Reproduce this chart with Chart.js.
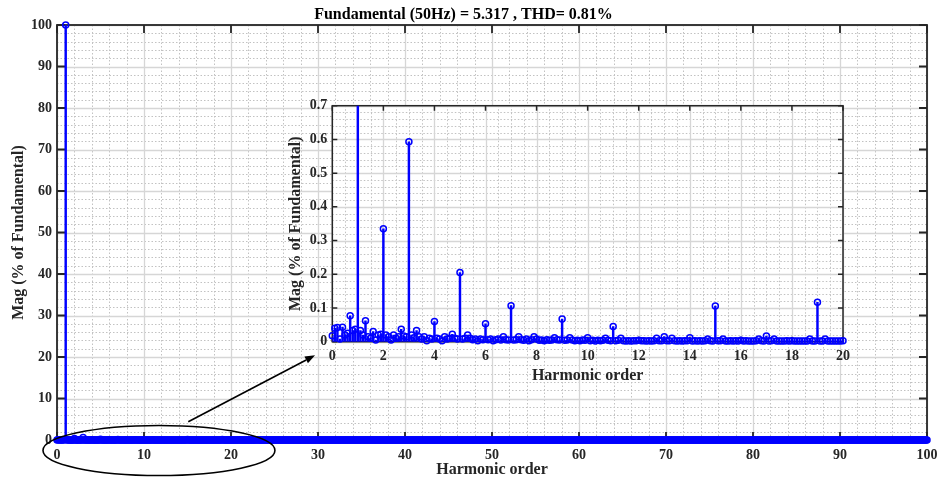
<!DOCTYPE html>
<html><head><meta charset="utf-8">
<script src="https://cdn.jsdelivr.net/npm/chart.js@4.4.0/dist/chart.umd.min.js"></script>
<style>
html,body{margin:0;padding:0;background:#fff;}
#wrap{position:relative;width:937px;height:482px;overflow:hidden;}
#main{position:absolute;left:0;top:0;}
#inset{position:absolute;left:280px;top:95px;}
</style></head><body>
<div id="wrap"><canvas id="main" width="937" height="482"></canvas><canvas id="inset" width="580" height="300"></canvas></div>
<script>
// ---------------- DATA ----------------
const harmonicStep = 0.1; // harmonic order resolution
// magnitude (% of fundamental), harmonic order 0.0 .. 19.9
const magLow = [
0.018,0.040,0.042,0.008,0.043,0.020,0.025,0.077,0.033,0.037,
100,0.033,0.020,0.062,0.015,0.010,0.030,0.005,0.020,0.022,
0.335,0.020,0.015,0.005,0.020,0.010,0.015,0.037,0.017,0.015,
0.593,0.020,0.012,0.033,0.015,0.008,0.015,0.003,0.010,0.008,
0.060,0.010,0.008,0.003,0.015,0.008,0.010,0.022,0.010,0.008,
0.205,0.008,0.010,0.020,0.010,0.006,0.008,0.003,0.008,0.006,
0.053,0.006,0.008,0.003,0.006,0.008,0.005,0.015,0.006,0.005,
0.107,0.005,0.006,0.015,0.006,0.004,0.008,0.003,0.006,0.015,
0.008,0.004,0.005,0.003,0.006,0.004,0.005,0.012,0.006,0.005,
0.067,0.004,0.005,0.012,0.005,0.003,0.004,0.003,0.005,0.004,
0.012,0.003,0.004,0.002,0.004,0.003,0.004,0.010,0.004,0.003,
0.045,0.003,0.004,0.010,0.003,0.002,0.003,0.002,0.003,0.003,
0.004,0.003,0.003,0.002,0.003,0.002,0.003,0.010,0.003,0.003,
0.015,0.003,0.003,0.010,0.003,0.002,0.003,0.002,0.003,0.003,
0.012,0.002,0.003,0.002,0.003,0.002,0.003,0.008,0.003,0.002,
0.106,0.003,0.003,0.008,0.002,0.002,0.003,0.002,0.003,0.002,
0.004,0.002,0.003,0.002,0.002,0.002,0.003,0.008,0.003,0.002,
0.017,0.002,0.003,0.008,0.002,0.002,0.002,0.002,0.003,0.002,
0.003,0.002,0.002,0.002,0.002,0.002,0.002,0.008,0.002,0.002,
0.117,0.002,0.002,0.008,0.002,0.002,0.002,0.002,0.002,0.002
];
// magnitude (% of fundamental), harmonic order 20.0 .. 100.0
const magHigh = [
0.003,0.002,0.002,0.002,0.002,0.002,0.002,0.004,0.002,0.002,
0.050,0.002,0.002,0.004,0.002,0.002,0.002,0.002,0.002,0.002,
0.003,0.002,0.002,0.002,0.002,0.002,0.002,0.004,0.002,0.002,
0.040,0.002,0.002,0.004,0.002,0.002,0.002,0.002,0.002,0.002,
0.003,0.002,0.002,0.002,0.002,0.002,0.002,0.004,0.002,0.002,
0.030,0.002,0.002,0.004,0.002,0.002,0.002,0.002,0.002,0.002,
0.003,0.002,0.002,0.002,0.002,0.002,0.002,0.004,0.002,0.002,
0.025,0.002,0.002,0.004,0.002,0.002,0.002,0.002,0.002,0.002,
0.003,0.002,0.002,0.002,0.002,0.002,0.002,0.004,0.002,0.002,
0.020,0.002,0.002,0.004,0.002,0.002,0.002,0.002,0.002,0.002,
0.003,0.002,0.002,0.002,0.002,0.002,0.002,0.003,0.002,0.002,
0.018,0.002,0.002,0.003,0.002,0.002,0.002,0.002,0.002,0.002,
0.003,0.002,0.002,0.002,0.002,0.002,0.002,0.003,0.002,0.002,
0.015,0.002,0.002,0.003,0.002,0.002,0.002,0.002,0.002,0.002,
0.003,0.002,0.002,0.002,0.002,0.002,0.002,0.003,0.002,0.002,
0.013,0.002,0.002,0.003,0.002,0.002,0.002,0.002,0.002,0.002,
0.003,0.002,0.002,0.002,0.002,0.002,0.002,0.003,0.002,0.002,
0.012,0.002,0.002,0.003,0.002,0.002,0.002,0.002,0.002,0.002,
0.003,0.002,0.002,0.002,0.002,0.002,0.002,0.003,0.002,0.002,
0.011,0.002,0.002,0.003,0.002,0.002,0.002,0.002,0.002,0.002,
0.002,0.002,0.002,0.002,0.002,0.002,0.002,0.003,0.002,0.002,
0.010,0.002,0.002,0.003,0.002,0.002,0.002,0.002,0.002,0.002,
0.002,0.002,0.002,0.002,0.002,0.002,0.002,0.003,0.002,0.002,
0.010,0.002,0.002,0.003,0.002,0.002,0.002,0.002,0.002,0.002,
0.002,0.002,0.002,0.002,0.002,0.002,0.002,0.003,0.002,0.002,
0.010,0.002,0.002,0.003,0.002,0.002,0.002,0.002,0.002,0.002,
0.002,0.002,0.002,0.002,0.002,0.002,0.002,0.003,0.002,0.002,
0.009,0.002,0.002,0.003,0.002,0.002,0.002,0.002,0.002,0.002,
0.002,0.002,0.002,0.002,0.002,0.002,0.002,0.003,0.002,0.002,
0.009,0.002,0.002,0.003,0.002,0.002,0.002,0.002,0.002,0.002,
0.002,0.002,0.002,0.002,0.002,0.002,0.002,0.002,0.002,0.002,
0.008,0.002,0.002,0.002,0.002,0.002,0.002,0.002,0.002,0.002,
0.002,0.002,0.002,0.002,0.002,0.002,0.002,0.002,0.002,0.002,
0.008,0.002,0.002,0.002,0.002,0.002,0.002,0.002,0.002,0.002,
0.002,0.002,0.002,0.002,0.002,0.002,0.002,0.002,0.002,0.002,
0.007,0.002,0.002,0.002,0.002,0.002,0.002,0.002,0.002,0.002,
0.002,0.002,0.002,0.002,0.002,0.002,0.002,0.002,0.002,0.002,
0.007,0.002,0.002,0.002,0.002,0.002,0.002,0.002,0.002,0.002,
0.002,0.002,0.002,0.002,0.002,0.002,0.002,0.002,0.002,0.002,
0.006,0.002,0.002,0.002,0.002,0.002,0.002,0.002,0.002,0.002,
0.002,0.002,0.002,0.002,0.002,0.002,0.002,0.002,0.002,0.002,
0.006,0.002,0.002,0.002,0.002,0.002,0.002,0.002,0.002,0.002,
0.002,0.002,0.002,0.002,0.002,0.002,0.002,0.002,0.002,0.002,
0.006,0.002,0.002,0.002,0.002,0.002,0.002,0.002,0.002,0.002,
0.002,0.002,0.002,0.002,0.002,0.002,0.002,0.002,0.002,0.002,
0.005,0.002,0.002,0.002,0.002,0.002,0.002,0.002,0.002,0.002,
0.002,0.002,0.002,0.002,0.002,0.002,0.002,0.002,0.002,0.002,
0.005,0.002,0.002,0.002,0.002,0.002,0.002,0.002,0.002,0.002,
0.002,0.002,0.002,0.002,0.002,0.002,0.002,0.002,0.002,0.002,
0.005,0.002,0.002,0.002,0.002,0.002,0.002,0.002,0.002,0.002,
0.002,0.002,0.002,0.002,0.002,0.002,0.002,0.002,0.002,0.002,
0.004,0.002,0.002,0.002,0.002,0.002,0.002,0.002,0.002,0.002,
0.002,0.002,0.002,0.002,0.002,0.002,0.002,0.002,0.002,0.002,
0.004,0.002,0.002,0.002,0.002,0.002,0.002,0.002,0.002,0.002,
0.002,0.002,0.002,0.002,0.002,0.002,0.002,0.002,0.002,0.002,
0.004,0.002,0.002,0.002,0.002,0.002,0.002,0.002,0.002,0.002,
0.002,0.002,0.002,0.002,0.002,0.002,0.002,0.002,0.002,0.002,
0.004,0.002,0.002,0.002,0.002,0.002,0.002,0.002,0.002,0.002,
0.002,0.002,0.002,0.002,0.002,0.002,0.002,0.002,0.002,0.002,
0.003,0.002,0.002,0.002,0.002,0.002,0.002,0.002,0.002,0.002,
0.002,0.002,0.002,0.002,0.002,0.002,0.002,0.002,0.002,0.002,
0.003,0.002,0.002,0.002,0.002,0.002,0.002,0.002,0.002,0.002,
0.002,0.002,0.002,0.002,0.002,0.002,0.002,0.002,0.002,0.002,
0.003,0.002,0.002,0.002,0.002,0.002,0.002,0.002,0.002,0.002,
0.002,0.002,0.002,0.002,0.002,0.002,0.002,0.002,0.002,0.002,
0.003,0.002,0.002,0.002,0.002,0.002,0.002,0.002,0.002,0.002,
0.002,0.002,0.002,0.002,0.002,0.002,0.002,0.002,0.002,0.002,
0.003,0.002,0.002,0.002,0.002,0.002,0.002,0.002,0.002,0.002,
0.002,0.002,0.002,0.002,0.002,0.002,0.002,0.002,0.002,0.002,
0.003,0.002,0.002,0.002,0.002,0.002,0.002,0.002,0.002,0.002,
0.002,0.002,0.002,0.002,0.002,0.002,0.002,0.002,0.002,0.002,
0.003,0.002,0.002,0.002,0.002,0.002,0.002,0.002,0.002,0.002,
0.002,0.002,0.002,0.002,0.002,0.002,0.002,0.002,0.002,0.002,
0.003,0.002,0.002,0.002,0.002,0.002,0.002,0.002,0.002,0.002,
0.002,0.002,0.002,0.002,0.002,0.002,0.002,0.002,0.002,0.002,
0.003,0.002,0.002,0.002,0.002,0.002,0.002,0.002,0.002,0.002,
0.002,0.002,0.002,0.002,0.002,0.002,0.002,0.002,0.002,0.002,
0.003,0.002,0.002,0.002,0.002,0.002,0.002,0.002,0.002,0.002,
0.002,0.002,0.002,0.002,0.002,0.002,0.002,0.002,0.002,0.002,
0.003,0.002,0.002,0.002,0.002,0.002,0.002,0.002,0.002,0.002,
0.002
];
const mainXTicks = [0,10,20,30,40,50,60,70,80,90,100];
const mainYTicks = [0,10,20,30,40,50,60,70,80,90,100];
const insetXTicks = [0,2,4,6,8,10,12,14,16,18,20];
const insetYTicks = [0,0.1,0.2,0.3,0.4,0.5,0.6,0.7];
const titleText = 'Fundamental (50Hz) = 5.317 , THD= 0.81%';
const yTitleText = 'Mag (% of Fundamental)';
const xTitleText = 'Harmonic order';

// ---------------- STYLE ----------------
const BLUE = '#0000FF';
const SERIF = "'Liberation Serif', 'Times New Roman', serif";
const AXIS = '#262626';

const mag = magLow.concat(magHigh);
const points = mag.map((v, i) => ({x: +(i * harmonicStep).toFixed(1), y: v}));
const insetPoints = points.filter(p => p.x <= 20);

function gridValues(min, max, step) {
  const n = Math.round((max - min) / step), out = [];
  for (let i = 0; i <= n; i++) out.push(min + i * step);
  return out;
}
function isMult(v, step) { const r = v / step; return Math.abs(r - Math.round(r)) < 1e-6; }

const frame = {
  id: 'frame',
  beforeDatasetsDraw(chart, args, o) {
    const {ctx, chartArea: a, scales: {x, y}} = chart;
    ctx.save();
    if (o.fill) { ctx.fillStyle = '#fff'; ctx.fillRect(a.left, a.top, a.right - a.left, a.bottom - a.top); }
    const vline = v => { const p = Math.round(x.getPixelForValue(v)) + 0.5; ctx.moveTo(p, a.top); ctx.lineTo(p, a.bottom); };
    const hline = v => { const p = Math.round(y.getPixelForValue(v)) + 0.5; ctx.moveTo(a.left, p); ctx.lineTo(a.right, p); };
    // minor
    ctx.beginPath();
    ctx.strokeStyle = '#c2c2c2'; ctx.lineWidth = 1; ctx.setLineDash([1.5, 2]);
    gridValues(x.min, x.max, o.xMinor).forEach(v => { if (!isMult(v, o.xMajor)) vline(v); });
    gridValues(y.min, y.max, o.yMinor).forEach(v => { if (!isMult(v, o.yMajor)) hline(v); });
    ctx.stroke();
    // major
    ctx.beginPath();
    ctx.setLineDash([]); ctx.strokeStyle = '#d6d6d6'; ctx.lineWidth = 1.3;
    gridValues(x.min, x.max, o.xMajor).forEach(vline);
    gridValues(y.min, y.max, o.yMajor).forEach(hline);
    ctx.stroke();
    // box
    ctx.strokeStyle = AXIS; ctx.lineWidth = o.boxWidth;
    ctx.strokeRect(a.left, a.top, a.right - a.left, a.bottom - a.top);
    // inward ticks
    ctx.beginPath();
    const L = o.tickLen;
    gridValues(x.min, x.max, o.xMajor).forEach(v => {
      const p = x.getPixelForValue(v);
      ctx.moveTo(p, a.bottom); ctx.lineTo(p, a.bottom - L);
      ctx.moveTo(p, a.top); ctx.lineTo(p, a.top + L);
    });
    gridValues(y.min, y.max, o.yMajor).forEach(v => {
      const p = y.getPixelForValue(v);
      ctx.moveTo(a.left, p); ctx.lineTo(a.left + L, p);
      ctx.moveTo(a.right, p); ctx.lineTo(a.right - L, p);
    });
    ctx.stroke();
    ctx.restore();
  }
};

// annotation in main-axis data units
const zoomEllipse = {cx: 11.72, cy: -2.53, rx: 13.33, ry: 6.02};
const zoomArrow = {x1: 15.09, y1: 4.41, x2: 29.66, y2: 20.4};
const annot = {
  id: 'annot',
  afterDatasetsDraw(chart) {
    const {ctx, scales: {x, y}} = chart;
    ctx.save();
    ctx.strokeStyle = '#000'; ctx.fillStyle = '#000'; ctx.lineWidth = 1.6;
    const cx = x.getPixelForValue(zoomEllipse.cx), cy = y.getPixelForValue(zoomEllipse.cy);
    const rx = Math.abs(x.getPixelForValue(zoomEllipse.cx + zoomEllipse.rx) - cx);
    const ry = Math.abs(y.getPixelForValue(zoomEllipse.cy + zoomEllipse.ry) - cy);
    ctx.beginPath(); ctx.ellipse(cx, cy, rx, ry, 0, 0, 2 * Math.PI); ctx.stroke();
    const x1 = x.getPixelForValue(zoomArrow.x1), y1 = y.getPixelForValue(zoomArrow.y1);
    const x2 = x.getPixelForValue(zoomArrow.x2), y2 = y.getPixelForValue(zoomArrow.y2);
    const ang = Math.atan2(y2 - y1, x2 - x1), hl = 10, hw = 3.8;
    const bx = x2 - hl * Math.cos(ang), by = y2 - hl * Math.sin(ang);
    ctx.beginPath(); ctx.moveTo(x1, y1); ctx.lineTo(bx, by); ctx.stroke();
    ctx.beginPath();
    ctx.moveTo(x2, y2);
    ctx.lineTo(bx + hw * Math.sin(ang), by - hw * Math.cos(ang));
    ctx.lineTo(bx - hw * Math.sin(ang), by + hw * Math.cos(ang));
    ctx.closePath(); ctx.fill();
    ctx.restore();
  }
};

const tickFont = {family: SERIF, size: 14, weight: 'bold'};
const titleFont = {family: SERIF, size: 16, weight: 'bold'};

function stemDatasets(data) {
  return [
    {type: 'line', data: data, showLine: false, pointRadius: 3, pointBorderWidth: 1.5,
     pointBackgroundColor: 'rgba(0,0,0,0)', pointBorderColor: BLUE, borderColor: BLUE, clip: false, order: 0},
    {type: 'bar', data: data, backgroundColor: BLUE, borderWidth: 0, barThickness: 1.8, clip: 0, order: 1}
  ];
}

function axis(opts) {
  return {
    type: 'linear', min: opts.min, max: opts.max, offset: false,
    grid: {display: false, drawTicks: false}, border: {display: false},
    afterBuildTicks: s => { s.ticks = opts.ticks.map(v => ({value: v})); },
    afterFit: s => {
      if (opts.width !== undefined) s.width = opts.width;
      if (opts.height !== undefined) s.height = opts.height;
      s.paddingLeft = 0; s.paddingRight = 0; s.paddingTop = 0; s.paddingBottom = 0;
    },
    ticks: {padding: opts.pad, color: AXIS, font: tickFont, maxRotation: 0, autoSkip: false},
    title: {display: true, text: opts.title, color: AXIS, font: titleFont, padding: opts.titlePad}
  };
}

new Chart(document.getElementById('main'), {
  type: 'scatter',
  data: {datasets: stemDatasets(points)},
  options: {
    responsive: false, animation: false, events: [],
    layout: {padding: {left: 0, right: 10, top: 0, bottom: 0}},
    plugins: {
      legend: {display: false}, tooltip: {enabled: false},
      title: {display: true, text: titleText, color: '#000', font: titleFont, padding: {top: 5.4, bottom: 0.4}},
      frame: {fill: false, xMinor: 2, yMinor: 2, xMajor: 10, yMajor: 10, tickLen: 8, boxWidth: 1.8}
    },
    scales: {
      x: axis({min: 0, max: 100, ticks: mainXTicks, height: 42, pad: 6.6, title: xTitleText, titlePad: {top: 0, bottom: 2.4}}),
      y: axis({min: 0, max: 100, ticks: mainYTicks, width: 57, pad: 5, title: yTitleText, titlePad: {top: 9.4, bottom: 0}})
    }
  },
  plugins: [frame, annot]
});

new Chart(document.getElementById('inset'), {
  type: 'scatter',
  data: {datasets: stemDatasets(insetPoints)},
  options: {
    responsive: false, animation: false, events: [],
    layout: {padding: {left: 0, right: 17, top: 10.7, bottom: 0}},
    plugins: {
      legend: {display: false}, tooltip: {enabled: false},
      frame: {fill: true, xMinor: 0.5, yMinor: 0.02, xMajor: 2, yMajor: 0.1, tickLen: 5, boxWidth: 1.5}
    },
    scales: {
      x: axis({min: 0, max: 20, ticks: insetXTicks, height: 53.3, pad: 6.6, title: xTitleText, titlePad: {top: 0, bottom: 9.4}}),
      y: axis({min: 0, max: 0.7, ticks: insetYTicks, width: 52.3, pad: 5, title: yTitleText, titlePad: {top: 6.4, bottom: 0}})
    }
  },
  plugins: [frame]
});
</script></body></html>
